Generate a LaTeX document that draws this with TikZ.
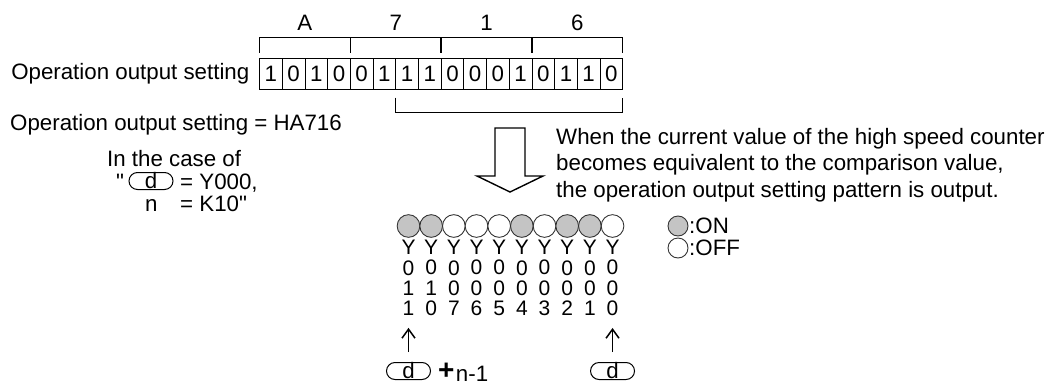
\documentclass[tikz,border=0pt]{standalone}
\usepackage{fontspec}
\setmainfont{Liberation Sans}
\usepackage{xcolor}
\usepackage{tikz}
\usetikzlibrary{positioning}
\usetikzlibrary{arrows.meta}

\definecolor{lampgray}{RGB}{196,196,196}

\begin{document}
\begin{tikzpicture}[
x=1pt, y=-1pt,
every node/.style={font=\fontsize{22.3pt}{26.5pt}\selectfont, inner sep=0pt},
cell/.style={
  rectangle,
  draw=black,
  line width=0.8pt,
  minimum width=22.7pt,
  minimum height=31pt,
  outer sep=0pt
},
lamp/.style={
  circle,
  draw=black!80,
  fill=white,
  line width=0.9pt,
  minimum size=22.67pt,
  outer sep=0pt
},
lampon/.style={lamp, fill=lampgray},
ylab/.style={align=center, font=\fontsize{21pt}{20.3pt}\selectfont},
dev/.style={
  rectangle,
  rounded corners=8.5pt,
  draw=black,
  line width=1pt,
  minimum width=44pt,
  minimum height=17pt
},
brk/.style={line width=1.3pt},
arr/.style={-{Straight Barb[length=9pt,width=13pt]}, line width=1.5pt}
]
\useasboundingbox (0,0) rectangle (1054,383);

% ---- TOP: bit pattern ----
\node[cell] (c1) at (270.85,74) {1};
\node[cell, right=0pt of c1] (c2) {0};
\node[cell, right=0pt of c2] (c3) {1};
\node[cell, right=0pt of c3] (c4) {0};
\node[cell, right=0pt of c4] (c5) {0};
\node[cell, right=0pt of c5] (c6) {1};
\node[cell, right=0pt of c6] (c7) {1};
\node[cell, right=0pt of c7] (c8) {1};
\node[cell, right=0pt of c8] (c9) {0};
\node[cell, right=0pt of c9] (c10) {0};
\node[cell, right=0pt of c10] (c11) {0};
\node[cell, right=0pt of c11] (c12) {1};
\node[cell, right=0pt of c12] (c13) {0};
\node[cell, right=0pt of c13] (c14) {1};
\node[cell, right=0pt of c14] (c15) {1};
\node[cell, right=0pt of c15] (c16) {0};
\draw[line width=1.4pt] (c1.north west) rectangle (c16.south east);

\node[left=10pt of c1] (lbl) {Operation output setting};

\node (hA) at ([yshift=36pt]c2.north east) {A};
\node (h7) at ([yshift=36pt]c6.north east) {7};
\node (h1) at ([yshift=36pt]c10.north east) {1};
\node (h6) at ([yshift=36pt]c14.north east) {6};

\draw[brk] ([yshift=6pt]c1.north west) -- ([yshift=21pt]c1.north west)
  -- ([yshift=21pt]c16.north east) -- ([yshift=6pt]c16.north east);
\draw[brk] ([yshift=6pt]c4.north east) -- ([yshift=21pt]c4.north east);
\draw[brk] ([yshift=6pt]c8.north east) -- ([yshift=21pt]c8.north east);
\draw[brk] ([yshift=6pt]c12.north east) -- ([yshift=21pt]c12.north east);

\draw[brk] ([yshift=-8pt]c7.south west) -- ([yshift=-23pt]c7.south west)
  -- ([yshift=-23pt]c16.south east) -- ([yshift=-8pt]c16.south east);

\node[anchor=base west] (hex) at (10,130) {Operation output setting = HA716};

% ---- LEFT: example operands ----
\node[anchor=base west] (case) at (107,166) {In the case of};
\node[anchor=base west] (q1) at (116,189) {\textquotedbl};
\node[dev] (dd) at (151,181) {d};
\node[anchor=base west] (eqy) at (180,189) {= Y000,};
\node[anchor=base west] (nn) at (145,211) {n};
\node[anchor=base west] (eqk) at (180,211) {= K10\textquotedbl};

% ---- MIDDLE: hollow arrow and note ----
\draw[line width=1.4pt] (495,128) -- (525,128) -- (525,176) -- (543,176)
  -- (510,192) -- (477,176) -- (495,176) -- cycle;

\node[anchor=west, align=left] (note) at (556,165) {When the current value of the high speed counter\\becomes equivalent to the comparison value,\\the operation output setting pattern is output.};

% ---- BOTTOM: outputs ----
\node[lampon] (l11) at (408.5,226) {};
\node[lampon, right=0pt of l11] (l10) {};
\node[lamp, right=0pt of l10] (l07) {};
\node[lamp, right=0pt of l07] (l06) {};
\node[lamp, right=0pt of l06] (l05) {};
\node[lampon, right=0pt of l05] (l04) {};
\node[lamp, right=0pt of l04] (l03) {};
\node[lampon, right=0pt of l03] (l02) {};
\node[lampon, right=0pt of l02] (l01) {};
\node[lamp, right=0pt of l01] (l00) {};

\node[ylab] (y11) at ([yshift=-52pt]l11.center) {Y\\0\\1\\1};
\node[ylab] (y10) at ([yshift=-52pt]l10.center) {Y\\0\\1\\0};
\node[ylab] (y07) at ([yshift=-52pt]l07.center) {Y\\0\\0\\7};
\node[ylab] (y06) at ([yshift=-52pt]l06.center) {Y\\0\\0\\6};
\node[ylab] (y05) at ([yshift=-52pt]l05.center) {Y\\0\\0\\5};
\node[ylab] (y04) at ([yshift=-52pt]l04.center) {Y\\0\\0\\4};
\node[ylab] (y03) at ([yshift=-52pt]l03.center) {Y\\0\\0\\3};
\node[ylab] (y02) at ([yshift=-52pt]l02.center) {Y\\0\\0\\2};
\node[ylab] (y01) at ([yshift=-52pt]l01.center) {Y\\0\\0\\1};
\node[ylab] (y00) at ([yshift=-52pt]l00.center) {Y\\0\\0\\0};

\node[dev] (dlo) at ([yshift=-145pt]l11.center) {d};
\node[dev] (dhi) at ([yshift=-145pt]l00.center) {d};
\node[right=7pt of dlo, font=\fontsize{28pt}{28pt}\selectfont\bfseries] (plus) {+};
\node[right=1pt of plus, yshift=-3pt] (sub) {n-1};

\draw[arr, shorten <=10pt, shorten >=12pt] (dlo.north) -- (y11.south);
\draw[arr, shorten <=10pt, shorten >=12pt] (dhi.north) -- (y00.south);

% ---- legend ----
\node[lampon, minimum size=20pt] (kon) at (678,226) {};
\node[right=1pt of kon] (ktxt1) {:ON};
\node[lamp, minimum size=20pt] (koff) at (678,248) {};
\node[right=1pt of koff] (ktxt2) {:OFF};

\end{tikzpicture}
\end{document}
